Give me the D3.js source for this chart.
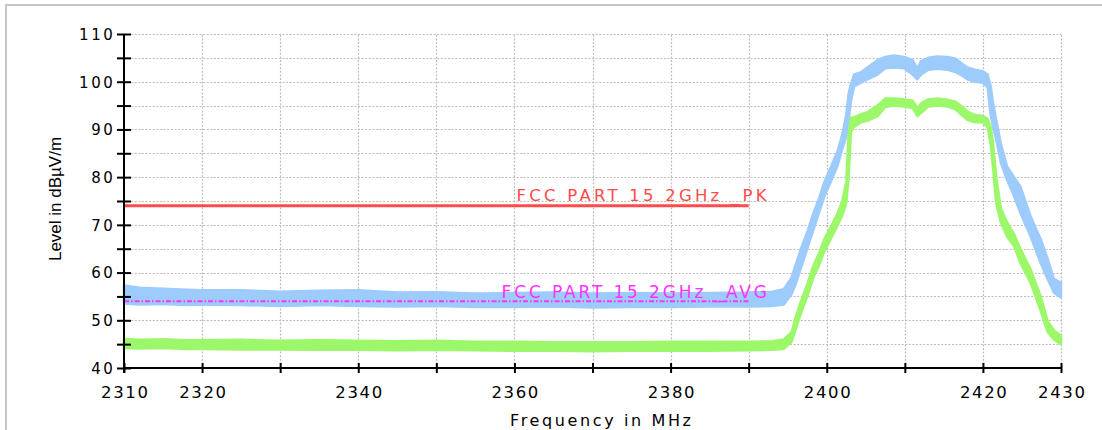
<!DOCTYPE html>
<html><head><meta charset="utf-8">
<script src="https://cdn.jsdelivr.net/npm/d3@7"></script>
<style>html,body{margin:0;padding:0;background:#fff;overflow:hidden}</style>
</head><body>
<svg id="c" width="1102" height="430"></svg>
<script>
// ---------------- DATA ----------------
const freq = [2310, 2312, 2315, 2318, 2320, 2325, 2330, 2335, 2340, 2345, 2350, 2355, 2360, 2365, 2370, 2375, 2380, 2385, 2390, 2393,
  2394.5, 2395.5, 2396, 2396.7, 2397.5, 2398.3, 2399, 2399.7, 2400.5, 2401.4, 2402, 2402.5, 2402.8, 2403.1, 2403.5, 2404.4, 2405.2, 2406.5, 2407.5, 2408.6,
  2409.9, 2411, 2411.6, 2412.1, 2413, 2414.2, 2415.5, 2416.5, 2417.3, 2418, 2419, 2420, 2420.6, 2421, 2421.3, 2421.7, 2422.3, 2423.1, 2424, 2424.8,
  2426.1, 2427.4, 2428.3, 2429.1, 2430];
// Peak trace (blue) lower / upper envelope, dBµV/m
const peakLo = [53.5, 53.3, 53.4, 53.2, 53.3, 53.2, 53.0, 53.2, 53.0, 52.9, 53.0, 52.8, 52.8, 52.9, 52.7, 52.8, 52.8, 52.9, 52.9, 53.0,
  53.3, 55.5, 57.5, 61.0, 65.0, 69.0, 72.5, 76.0, 79.0, 82.5, 86.0, 88.5, 92.0, 96.0, 99.0, 99.8, 100.5, 101.5, 102.8, 103.0,
  102.8, 101.5, 100.5, 101.5, 102.5, 102.7, 102.5, 102.0, 101.3, 100.5, 100.0, 99.8, 98.8, 93.0, 90.5, 88.0, 83.0, 79.4, 76.0, 72.5,
  67.6, 62.0, 58.6, 55.8, 54.8];
const peakHi = [57.3, 56.8, 56.6, 56.4, 56.3, 56.3, 56.0, 56.2, 56.3, 55.8, 55.9, 55.6, 55.7, 55.8, 55.6, 55.7, 55.6, 55.7, 55.8, 56.0,
  56.5, 59.0, 61.5, 65.0, 68.5, 72.5, 75.5, 79.0, 82.0, 85.5, 89.0, 93.0, 97.5, 99.5, 101.5, 102.0, 103.0, 104.5, 105.2, 105.5,
  105.2, 104.5, 102.8, 104.3, 105.0, 105.3, 105.2, 104.8, 103.8, 103.0, 102.5, 102.2, 101.5, 99.0, 95.5, 92.0, 87.0, 82.2, 80.0, 78.0,
  71.8, 67.0, 62.8, 58.6, 57.9];
// Average trace (green) lower / upper envelope, dBµV/m
const avgLo = [44.2, 44.1, 44.2, 44.0, 44.0, 43.9, 43.9, 43.8, 43.8, 43.7, 43.8, 43.7, 43.6, 43.6, 43.5, 43.6, 43.6, 43.6, 43.7, 43.8,
  44.0, 45.5, 48.0, 51.5, 55.0, 59.0, 61.5, 64.5, 67.0, 70.0, 72.0, 74.5, 80.0, 89.5, 90.5, 91.5, 91.8, 92.8, 94.7, 95.0,
  94.8, 94.5, 92.8, 93.5, 94.8, 95.0, 94.8, 94.2, 93.0, 92.0, 91.5, 91.5, 90.5, 87.0, 82.0, 74.5, 70.5, 67.5, 65.5, 62.0,
  57.9, 52.0, 47.5, 46.0, 45.0];
const avgHi = [46.1, 45.9, 46.0, 45.8, 45.8, 45.9, 45.7, 45.8, 45.7, 45.6, 45.7, 45.5, 45.5, 45.4, 45.4, 45.4, 45.5, 45.5, 45.5, 45.6,
  46.0, 47.5, 50.5, 54.0, 57.5, 61.5, 64.0, 67.0, 69.5, 72.5, 75.0, 79.0, 89.0, 92.5, 92.5, 93.2, 93.6, 95.0, 96.5, 96.5,
  96.3, 96.0, 94.5, 95.5, 96.3, 96.5, 96.2, 95.8, 94.8, 93.8, 93.0, 92.8, 92.2, 90.5, 87.0, 80.0, 73.5, 70.5, 68.0, 65.0,
  60.7, 55.0, 49.8, 47.8, 46.8];
// Limit lines
const limitFreq = [2310, 2390];
const pkLimit = [74, 74];
const avgLimit = [54, 54];
const pkLabel = "FCC PART 15 2GHz _PK";
const avgLabel = "FCC PART 15 2GHz _AVG";
// Axes
const xTickValues = [2310, 2320, 2330, 2340, 2350, 2360, 2370, 2380, 2390, 2400, 2410, 2420, 2430];
const xTickLabels = [2310, 2320, 2340, 2360, 2380, 2400, 2420, 2430];
const yTickValues = [40, 45, 50, 55, 60, 65, 70, 75, 80, 85, 90, 95, 100, 105, 110];
const yTickLabels = [40, 50, 60, 70, 80, 90, 100, 110];
const xTitle = "Frequency in MHz";
const yTitle = "Level in dBµV/m";

// ---------------- DRAW ----------------
const FONT = "'Liberation Sans', Arial, sans-serif";
const WFONT = "'DejaVu Sans', Verdana, sans-serif";
const svg = d3.select('#c');
svg.append('path').attr('d', 'M6,430 V5 H1102').attr('fill', 'none')
  .attr('stroke', '#c6c6c6').attr('stroke-width', 2);

const x = d3.scaleLinear().domain([2310, 2430]).range([124, 1061]);
const y = d3.scaleLinear().domain([40, 110]).range([368, 34]);

// grid
const grid = svg.append('g').attr('stroke', '#bdbdbd').attr('stroke-width', 1.2)
  .attr('stroke-dasharray', '2,1.6');
grid.selectAll('.gy').data(yTickValues.filter(v => v > 40)).join('line')
  .attr('x1', x(2310)).attr('x2', x(2430)).attr('y1', d => Math.round(y(d)) + 0.5).attr('y2', d => Math.round(y(d)) + 0.5);
grid.selectAll('.gx').data(xTickValues.filter(v => v > 2310)).join('line')
  .attr('y1', y(40)).attr('y2', y(110)).attr('x1', d => Math.round(x(d)) + 0.5).attr('x2', d => Math.round(x(d)) + 0.5);

// traces
const rows = freq.map((f, i) => ({f, pl: peakLo[i], ph: peakHi[i], al: avgLo[i], ah: avgHi[i]}));
const peakArea = d3.area().x(d => x(d.f)).y0(d => y(d.pl)).y1(d => y(d.ph));
const avgArea = d3.area().x(d => x(d.f)).y0(d => y(d.al)).y1(d => y(d.ah));
svg.append('path').datum(rows).attr('d', peakArea).attr('fill', '#9dcbfb')
  .attr('stroke', '#9dcbfb').attr('stroke-width', 2.5).attr('stroke-linejoin', 'round');
svg.append('path').datum(rows).attr('d', avgArea).attr('fill', '#9cf86a')
  .attr('stroke', '#9cf86a').attr('stroke-width', 2.5).attr('stroke-linejoin', 'round');

// limit lines
const lim = limitFreq.map((f, i) => ({f, pk: pkLimit[i], av: avgLimit[i]}));
svg.append('path').datum(lim).attr('d', d3.line().x(d => x(d.f)).y(d => y(d.pk)))
  .attr('stroke', '#ff4b4b').attr('stroke-width', 3).attr('fill', 'none');
svg.append('path').datum(lim).attr('d', d3.line().x(d => x(d.f)).y(d => y(d.av)))
  .attr('stroke', '#ff33ff').attr('stroke-width', 2).attr('fill', 'none')
  .attr('stroke-dasharray', '5,2,1.5,2');
svg.append('text').text(pkLabel).attr('x', 516.5).attr('y', y(pkLimit[0]) - 4.5)
  .attr('textLength', 250).attr('lengthAdjust', 'spacing')
  .attr('fill', '#ff4b4b').attr('font-family', WFONT).attr('font-size', 16.5);
svg.append('text').text(avgLabel).attr('x', 501.5).attr('y', y(avgLimit[0]) - 3.5)
  .attr('textLength', 265.5).attr('lengthAdjust', 'spacing')
  .attr('fill', '#ff33ff').attr('font-family', WFONT).attr('font-size', 17);

// x axis
const xa = svg.append('g').attr('transform', `translate(0,${y(40)})`)
  .call(d3.axisBottom(x).tickValues(xTickValues).tickSize(5)
    .tickFormat(d => xTickLabels.includes(d) ? String(d) : ''));
xa.select('.domain').attr('stroke', '#000').attr('stroke-width', 2).attr('d', `M${x(2310)},0H${x(2430)}`);
xa.selectAll('.tick line').attr('y1', -5).attr('y2', 5).attr('stroke', '#000').attr('stroke-width', 2);
xa.selectAll('.tick text').attr('y', 29.5).attr('dy', null).attr('dx', 0.8)
  .attr('font-family', WFONT).attr('font-size', 16.5).attr('fill', '#000')
  .style('letter-spacing', '1.6px');

// y axis
const ya = svg.append('g').attr('transform', `translate(${x(2310)},0)`)
  .call(d3.axisLeft(y).tickValues(yTickValues).tickSize(7)
    .tickFormat(d => yTickLabels.includes(d) ? String(d) : ''));
ya.select('.domain').attr('stroke', '#000').attr('stroke-width', 2).attr('d', `M0,${y(110)}V${y(40) + 5}`);
ya.selectAll('.tick line').attr('x1', -7).attr('x2', 7).attr('stroke', '#000').attr('stroke-width', 2);
ya.selectAll('.tick text').attr('x', -8.5).attr('dy', '0.36em')
  .attr('font-family', WFONT).attr('font-size', 15).attr('fill', '#000')
  .style('letter-spacing', '2.6px');

// titles
svg.append('text').text(xTitle).attr('x', 510).attr('y', 425.5)
  .attr('textLength', 181).attr('lengthAdjust', 'spacing')
  .attr('font-family', WFONT).attr('font-size', 16).attr('fill', '#000');
svg.append('text').text(yTitle).attr('transform', 'translate(60.5,199) rotate(-90)')
  .attr('text-anchor', 'middle').attr('font-family', FONT).attr('font-size', 17).attr('fill', '#000');
</script>
</body></html>
